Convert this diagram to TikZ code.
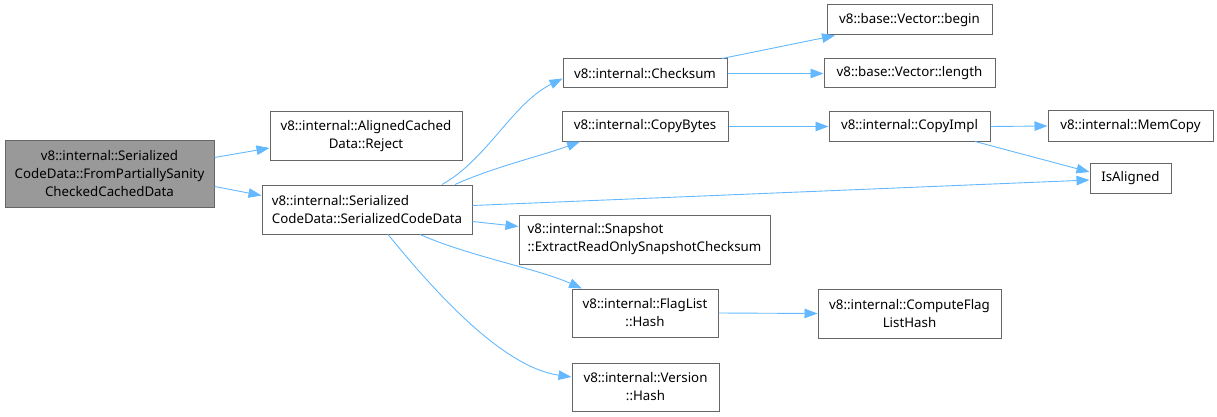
\documentclass[tikz,border=0pt]{standalone}
\usepackage{fontspec}
\setmainfont{Noto Sans}
\usetikzlibrary{arrows.meta}
\definecolor{edgeblue}{HTML}{63B8FF}
\definecolor{boxborder}{HTML}{666666}
\definecolor{mainfill}{HTML}{999999}
\begin{document}
\begin{tikzpicture}[x=1pt,y=-1pt,
  box/.style={draw=boxborder,line width=1pt,inner sep=0pt,align=center,
    font=\fontsize{13.3}{18}\selectfont},
  lbox/.style={box,align=left},
  edge/.style={draw=edgeblue,line width=0.9pt,-{Triangle[length=13pt,width=9.5pt]}}]
\useasboundingbox (0,0) rectangle (1217,417);
\node[box,fill=mainfill,minimum width=209pt,minimum height=67pt] (main) at (109.5,173.5)
  {v8::internal::Serialized\\CodeData::FromPartiallySanity\\CheckedCachedData};
\node[box,minimum width=192pt,minimum height=48pt] (reject) at (366,136)
  {v8::internal::AlignedCached\\Data::Reject};
\node[lbox,minimum width=210pt,minimum height=49pt] (scd) at (367,209.5)
  {v8::internal::Serialized\\CodeData::SerializedCodeData};
\node[box,minimum width=164pt,minimum height=29pt] (checksum) at (645,73.5)
  {v8::internal::Checksum};
\node[box,minimum width=165pt,minimum height=30pt] (begin) at (909.5,20)
  {v8::base::Vector::begin};
\node[box,minimum width=171pt,minimum height=29pt] (length) at (909.5,73.5)
  {v8::base::Vector::length};
\node[box,minimum width=166pt,minimum height=29pt] (copybytes) at (645,126.5)
  {v8::internal::CopyBytes};
\node[box,minimum width=161pt,minimum height=29pt] (copyimpl) at (909.5,126.5)
  {v8::internal::CopyImpl};
\node[box,minimum width=165pt,minimum height=30pt] (memcopy) at (1130.5,126)
  {v8::internal::MemCopy};
\node[box,minimum width=81pt,minimum height=30pt] (isaligned) at (1130.5,178)
  {IsAligned};
\node[lbox,minimum width=251pt,minimum height=49pt] (snapshot) at (644.5,239.5)
  {v8::internal::Snapshot\\::ExtractReadOnlySnapshotChecksum};
\node[box,minimum width=146pt,minimum height=48pt] (flaglist) at (645,313)
  {v8::internal::FlagList\\::Hash};
\node[box,minimum width=147pt,minimum height=48pt] (version) at (645.5,387)
  {v8::internal::Version\\::Hash};
\node[box,minimum width=183pt,minimum height=49pt] (compute) at (909.5,313.5)
  {v8::internal::ComputeFlag\\ListHash};

\draw[edge] ([yshift=16pt]main.east) -- ([yshift=-12pt]reject.west);
\draw[edge] ([yshift=-13pt]main.east) -- ([yshift=14pt]scd.west);
\draw[edge] ([xshift=75pt]scd.north) .. controls +(45,-25) and +(-50,25) .. ([yshift=-5pt]checksum.west);
\draw[edge] ([xshift=88pt]scd.north) .. controls +(40,-18) and +(-40,15) .. ([xshift=-65pt]copybytes.south);
\draw[edge] ([yshift=4pt]scd.east) -- ([yshift=-2pt]isaligned.west);
\draw[edge] ([yshift=-12pt]scd.east) -- ([yshift=13pt]snapshot.west);
\draw[edge] ([xshift=53pt]scd.south) .. controls +(50,22) and +(-45,-20) .. ([xshift=-63pt]flaglist.north);
\draw[edge] ([xshift=21pt]scd.south) .. controls +(45,55) and +(-70,-10) .. ([yshift=10pt]version.west);
\draw[edge] ([xshift=77pt]checksum.north) -- ([xshift=-74.5pt]begin.south);
\draw[edge] (checksum.east) -- (length.west);
\draw[edge] (copybytes.east) -- (copyimpl.west);
\draw[edge] (copyimpl.east) -- (memcopy.west);
\draw[edge] ([xshift=65.5pt]copyimpl.south) -- ([yshift=6pt]isaligned.west);
\draw[edge] (flaglist.east) -- (compute.west);
\end{tikzpicture}
\end{document}
